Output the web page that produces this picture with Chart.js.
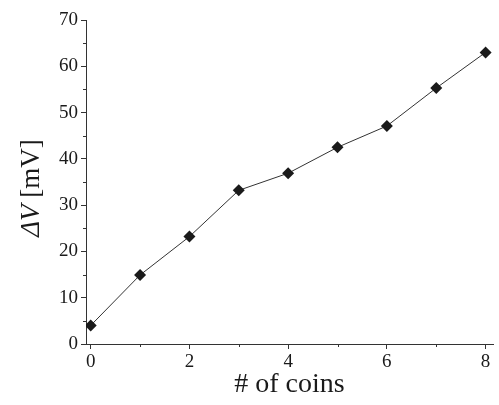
<!DOCTYPE html>
<html>
<head>
<meta charset="utf-8">
<script src="https://cdn.jsdelivr.net/npm/chart.js@4/dist/chart.umd.min.js"></script>
<style>
  html, body { margin: 0; padding: 0; background: #fff; }
  #wrap { width: 499px; height: 405px; }
</style>
</head>
<body>
<div id="wrap"><canvas id="c" width="499" height="405"></canvas></div>
<script>
// Number of coins on the stack
const coins = [0, 1, 2, 3, 4, 5, 6, 7, 8];
// Measured voltage change, mV
const deltaV = [4.0, 14.9, 23.2, 33.2, 36.9, 42.5, 47.1, 55.3, 63.0];
// Labelled ticks
const xTicks = [0, 2, 4, 6, 8];
const yTicks = [0, 10, 20, 30, 40, 50, 60, 70];
// Unlabelled minor ticks
const xMinor = [1, 3, 5, 7];
const yMinor = [5, 15, 25, 35, 45, 55, 65];

const FONT = "'Liberation Serif', 'Times New Roman', serif";
const AXIS = '#333';

// Short minor ticks and the axis titles (ΔV set in italics)
const extras = {
  id: 'extras',
  afterDraw(chart) {
    const { ctx, chartArea, scales } = chart;
    ctx.save();
    ctx.strokeStyle = AXIS;
    ctx.lineWidth = 1;
    ctx.beginPath();
    xMinor.forEach(v => {
      const px = Math.round(scales.x.getPixelForValue(v)) + 0.5;
      ctx.moveTo(px, chartArea.bottom);
      ctx.lineTo(px, chartArea.bottom + 3);
    });
    yMinor.forEach(v => {
      const py = Math.round(scales.y.getPixelForValue(v)) + 0.5;
      ctx.moveTo(chartArea.left, py);
      ctx.lineTo(chartArea.left - 3, py);
    });
    ctx.stroke();

    ctx.fillStyle = '#1a1a1a';
    ctx.textBaseline = 'middle';
    // x title
    ctx.font = '28px ' + FONT;
    ctx.textAlign = 'center';
    ctx.fillText('# of coins', (chartArea.left + chartArea.right) / 2, 385);

    // y title, rotated
    ctx.translate(32, (chartArea.top + chartArea.bottom) / 2 + 6);
    ctx.rotate(-Math.PI / 2);
    const a = 'ΔV', b = ' [mV]';
    ctx.font = 'italic 27px ' + FONT;
    const wa = ctx.measureText(a).width;
    ctx.font = '27px ' + FONT;
    const wb = ctx.measureText(b).width;
    let x0 = -(wa + wb) / 2;
    ctx.textAlign = 'left';
    ctx.font = 'italic 27px ' + FONT;
    ctx.fillText(a, x0, 0);
    ctx.font = '27px ' + FONT;
    ctx.fillText(b, x0 + wa, 0);
    ctx.restore();
  }
};

new Chart(document.getElementById('c'), {
  type: 'line',
  data: {
    datasets: [{
      data: coins.map((c, i) => ({ x: c, y: deltaV[i] })),
      borderColor: '#333',
      borderWidth: 1,
      pointStyle: 'rectRot',
      pointRadius: 6,
      pointBackgroundColor: '#1a1a1a',
      pointBorderColor: '#1a1a1a',
      pointBorderWidth: 0,
      tension: 0
    }]
  },
  options: {
    responsive: false,
    animation: false,
    devicePixelRatio: 1,
    layout: { padding: { top: 20, right: 1, bottom: 0, left: 0 } },
    plugins: { legend: { display: false }, tooltip: { enabled: false } },
    scales: {
      x: {
        type: 'linear',
        min: -0.095,
        max: 8.15,
        afterFit(s) { s.height = 61; },
        afterBuildTicks(s) { s.ticks = xTicks.map(v => ({ value: v })); },
        border: { color: AXIS, width: 1 },
        grid: { drawOnChartArea: false, drawTicks: true, tickLength: 5, color: AXIS },
        ticks: { color: '#1a1a1a', font: { family: FONT, size: 19 }, padding: 2, maxRotation: 0 }
      },
      y: {
        type: 'linear',
        min: 0,
        max: 70,
        afterFit(s) { s.width = 86; },
        afterBuildTicks(s) { s.ticks = yTicks.map(v => ({ value: v })); },
        border: { color: AXIS, width: 1 },
        grid: { drawOnChartArea: false, drawTicks: true, tickLength: 5, color: AXIS },
        ticks: { color: '#1a1a1a', font: { family: FONT, size: 19 }, padding: 3 }
      }
    }
  },
  plugins: [extras]
});
</script>
</body>
</html>
